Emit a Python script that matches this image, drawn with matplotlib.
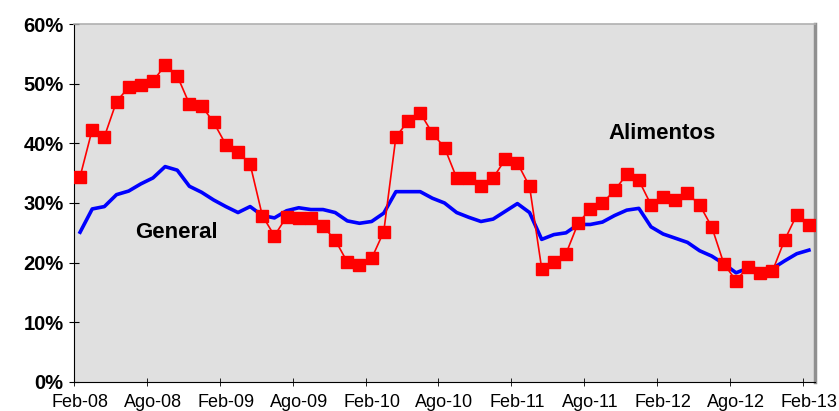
import numpy as np
import matplotlib
matplotlib.use("Agg")
import matplotlib.pyplot as plt

# monthly series, Feb-08 .. Feb-13 (61 months), in percent
alimentos = [34.4, 42.3, 41.1, 47.0, 49.4, 49.7, 50.4, 53.1, 51.3, 46.6,
             46.3, 43.5, 39.8, 38.6, 36.5, 27.9, 24.5, 27.7, 27.5, 27.5,
             26.1, 23.8, 20.1, 19.6, 20.7, 25.2, 41.1, 43.7, 45.1, 41.7,
             39.3, 34.2, 34.2, 32.8, 34.2, 37.3, 36.7, 32.8, 19.0, 20.1,
             21.5, 26.6, 29.0, 30.0, 32.1, 34.8, 33.8, 29.7, 31.0, 30.5,
             31.6, 29.7, 26.0, 19.8, 17.0, 19.3, 18.2, 18.6, 23.8, 28.0,
             26.3]
general = [25.1, 29.0, 29.4, 31.4, 32.0, 33.2, 34.2, 36.1, 35.5, 32.8,
           31.8, 30.5, 29.4, 28.4, 29.4, 27.9, 27.5, 28.7, 29.2, 28.9,
           28.9, 28.4, 27.0, 26.6, 26.9, 28.3, 31.9, 31.9, 31.9, 30.8,
           30.0, 28.4, 27.6, 26.9, 27.3, 28.6, 29.9, 28.4, 23.9, 24.7,
           25.0, 26.4, 26.4, 26.8, 27.9, 28.8, 29.1, 26.0, 24.8, 24.1,
           23.4, 22.0, 21.1, 19.8, 18.3, 19.1, 18.9, 19.0, 20.3, 21.5,
           22.1]
tick_labels = ["Feb-08", "Ago-08", "Feb-09", "Ago-09", "Feb-10", "Ago-10",
               "Feb-11", "Ago-11", "Feb-12", "Ago-12", "Feb-13"]

x = np.arange(len(alimentos))

fig = plt.figure(figsize=(8.39, 4.11), dpi=100)
ax = fig.add_axes([0.0882, 0.0706, 0.8832, 0.871])
ax.set_facecolor("#e0e0e0")

ax.plot(x, general, color="#0000ff", lw=2.6, zorder=2)
ax.plot(x, alimentos, color="#ff0000", lw=1.2, marker="s", ms=8.5,
        mec="#ff0000", mfc="#ff0000", zorder=3)

ax.set_xlim(-0.5, len(x) - 0.5)
ax.set_ylim(0, 60)
ax.set_yticks(np.arange(0, 61, 10))
ax.set_yticklabels([f"{v}%" for v in range(0, 61, 10)],
                   fontfamily="Liberation Sans", fontweight="bold", fontsize=14.5)

major = np.arange(0, len(x), 6)
ax.set_xticks(major)
ax.set_xticklabels(tick_labels, fontfamily="Liberation Sans", fontsize=13)
ax.set_xticks(major - 0.5, minor=True)
ax.tick_params(axis="x", which="major", length=0, pad=9)
ax.tick_params(axis="x", which="minor", length=6, direction="inout")
ax.tick_params(axis="y", length=7, direction="inout", pad=4)

for s in ["left", "bottom"]:
    ax.spines[s].set_color("black")
ax.spines["top"].set_color("#b0b0b0")
ax.spines["top"].set_linewidth(1.2)
ax.spines["right"].set_color("#909090")
ax.spines["right"].set_linewidth(2.5)

ax.text(7.9, 25.0, "General", fontfamily="Liberation Sans", fontweight="bold",
        fontsize=16, ha="center", va="center")
ax.text(47.9, 41.7, "Alimentos", fontfamily="Liberation Sans", fontweight="bold",
        fontsize=16, ha="center", va="center")

fig.savefig("out.png", dpi=100)
